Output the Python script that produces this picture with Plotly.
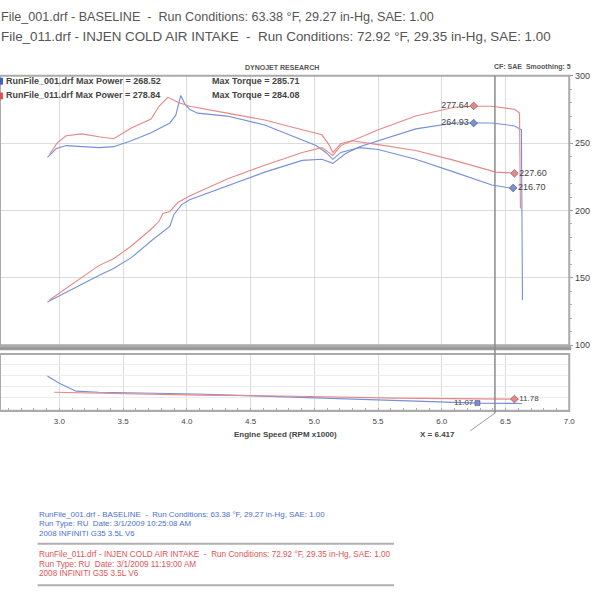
import plotly.graph_objects as go

# ---------------- data ----------------
rpm_tq_base = [2.907, 2.977, 3.054, 3.178, 3.310, 3.426, 3.565, 3.720, 3.868, 3.914, 3.953, 3.985, 4.022, 4.084,
               4.317, 4.611, 4.906, 5.014, 5.091, 5.146, 5.208, 5.355, 5.502, 5.796, 6.098, 6.393, 6.571]
tq_base = [239.4, 246.0, 248.2, 247.4, 246.7, 247.4, 251.8, 257.7, 265.0, 270.8, 285.4, 279.0, 275.2, 272.3,
           270.1, 263.5, 252.6, 248.2, 243.1, 238.0, 243.1, 246.7, 245.3, 238.0, 228.5, 219.0, 216.1]

rpm_tq_injen = [2.923, 2.985, 3.054, 3.178, 3.310, 3.426, 3.565, 3.720, 3.782, 3.852, 3.930, 4.022, 4.317,
                4.611, 4.906, 5.060, 5.115, 5.146, 5.208, 5.293, 5.502, 5.796, 6.098, 6.424, 6.579]
tq_injen = [241.6, 250.4, 255.5, 256.9, 254.7, 253.3, 261.3, 267.9, 277.4, 284.0, 280.3, 277.4, 272.3,
            267.2, 259.9, 256.2, 248.9, 243.1, 249.6, 251.8, 248.9, 244.5, 237.2, 228.5, 227.7]

rpm_hp_base = [2.907, 3.054, 3.310, 3.426, 3.565, 3.720, 3.868, 3.899, 3.960, 4.022, 4.317, 4.611, 4.906,
               5.060, 5.146, 5.246, 5.355, 5.502, 5.796, 6.098, 6.253, 6.393, 6.571, 6.625, 6.633]
hp_base = [132.1, 139.4, 151.8, 156.9, 165.0, 177.4, 188.3, 197.1, 204.4, 208.0, 218.2, 228.5, 237.2,
           238.0, 235.0, 242.3, 247.4, 251.8, 260.6, 265.0, 265.0, 265.0, 262.8, 259.9, 133.6]

rpm_hp_injen = [2.923, 3.054, 3.310, 3.426, 3.565, 3.720, 3.782, 3.813, 3.868, 3.930, 4.022, 4.317, 4.611,
                4.906, 5.060, 5.146, 5.208, 5.502, 5.796, 6.098, 6.253, 6.393, 6.571, 6.610, 6.617]
hp_injen = [133.6, 142.3, 159.1, 164.2, 173.7, 186.1, 192.0, 197.8, 199.3, 206.0, 210.8, 223.4, 233.6,
            243.1, 246.7, 240.9, 248.2, 259.9, 270.1, 276.6, 277.4, 277.4, 275.2, 272.3, 201.5]

rpm_afr_base = [2.907, 3.000, 3.132, 3.310, 4.080, 4.860, 5.630, 6.280, 6.630]
afr_base = [15.9, 14.6, 13.2, 13.0, 12.7, 12.1, 11.6, 11.07, 11.0]
rpm_afr_injen = [2.960, 3.310, 4.080, 4.860, 5.630, 6.570, 6.600]
afr_injen = [13.0, 12.85, 12.5, 12.3, 11.96, 11.78, 11.78]

cursor_rpm = 6.417
peak_labels_rpm = [6.25, 6.25, 6.57, 6.56]
peak_labels_val = [277.64, 264.93, 227.60, 216.70]
afr_label_rpm = [6.28, 6.57]
afr_label_val = [11.07, 11.78]

x_ticks = [3.0, 3.5, 4.0, 4.5, 5.0, 5.5, 6.0, 6.5, 7.0]
y_ticks = [100, 150, 200, 250, 300]

BLUE = "#7590dc"
RED = "#ea8686"
FONT = "Liberation Sans"

def px(x):
    return x / 600.0

def py(y):
    return 1 - y / 600.0

fig = go.Figure()

line_w = 1.1
fig.add_trace(go.Scatter(x=rpm_tq_base, y=tq_base, mode="lines", line=dict(color=BLUE, width=line_w)))
fig.add_trace(go.Scatter(x=rpm_tq_injen, y=tq_injen, mode="lines", line=dict(color=RED, width=line_w)))
fig.add_trace(go.Scatter(x=rpm_hp_base, y=hp_base, mode="lines", line=dict(color=BLUE, width=line_w)))
fig.add_trace(go.Scatter(x=rpm_hp_injen, y=hp_injen, mode="lines", line=dict(color=RED, width=line_w)))

fig.add_trace(go.Scatter(x=rpm_afr_base, y=afr_base, mode="lines", line=dict(color=BLUE, width=line_w),
                         xaxis="x2", yaxis="y2"))
fig.add_trace(go.Scatter(x=rpm_afr_injen, y=afr_injen, mode="lines", line=dict(color=RED, width=line_w),
                         xaxis="x2", yaxis="y2"))

# value markers / labels
fig.add_trace(go.Scatter(
    x=peak_labels_rpm[:2], y=peak_labels_val[:2], mode="markers+text",
    text=[f"{v:.2f}" for v in peak_labels_val[:2]], textposition="middle left",
    textfont=dict(family=FONT, size=9, color="#444"),
    marker=dict(symbol="diamond", size=6, color=[RED, BLUE], line=dict(color="#555", width=0.6))))
fig.add_trace(go.Scatter(
    x=peak_labels_rpm[2:], y=peak_labels_val[2:], mode="markers+text",
    text=[f"{v:.2f}" for v in peak_labels_val[2:]], textposition="middle right",
    textfont=dict(family=FONT, size=9, color="#444"),
    marker=dict(symbol="diamond", size=6, color=[RED, BLUE], line=dict(color="#555", width=0.6))))
fig.add_trace(go.Scatter(
    x=[afr_label_rpm[0]], y=[afr_label_val[0]], mode="markers+text", text=[f"{afr_label_val[0]:.2f}"],
    textposition="middle left", textfont=dict(family=FONT, size=8, color="#444"),
    marker=dict(symbol="square", size=5, color=BLUE, line=dict(color="#555", width=0.6)),
    xaxis="x2", yaxis="y2"))
fig.add_trace(go.Scatter(
    x=[afr_label_rpm[1]], y=[afr_label_val[1]], mode="markers+text", text=[f"{afr_label_val[1]:.2f}"],
    textposition="middle right", textfont=dict(family=FONT, size=8, color="#444"),
    marker=dict(symbol="diamond", size=6, color=RED, line=dict(color="#555", width=0.6)),
    xaxis="x2", yaxis="y2"))

xr = [2.535, 7.0]
dom_x = [0, px(575)]
grid = "#dcdcdc"

fig.update_layout(
    width=600, height=600, margin=dict(l=0, r=0, t=0, b=0),
    paper_bgcolor="white", plot_bgcolor="white", showlegend=False,
    font=dict(family=FONT, color="#444"),
    xaxis=dict(domain=dom_x, range=xr, tickvals=x_ticks, showticklabels=False, showgrid=True,
               gridcolor=grid, zeroline=False, showline=False, anchor="y"),
    yaxis=dict(domain=[py(346), py(72)], range=[100, 300], tickvals=y_ticks, side="right",
               showgrid=True, gridcolor=grid, zeroline=False, ticks="outside", ticklen=3,
               tickcolor="#999", tickfont=dict(family=FONT, size=9, color="#444"),
               minor=dict(dtick=10, ticks="outside", ticklen=2, tickcolor="#aaa"),
               anchor="x"),
    xaxis2=dict(domain=dom_x, range=xr, tickvals=x_ticks, ticktext=[f"{t:.1f}" for t in x_ticks],
                showgrid=True, gridcolor=grid, zeroline=False, showline=False, anchor="y2",
                tickfont=dict(family=FONT, size=8, color="#444"), ticklabelstandoff=4,
                minor=dict(dtick=0.1, ticks="inside", ticklen=3, tickcolor="#aaa")),
    yaxis2=dict(domain=[py(413), py(355)], range=[9.64, 19.82], dtick=2, showticklabels=False,
                showgrid=True, gridcolor="#ececec", zeroline=False, anchor="x2"),
)

shapes = []
# plot frames
shapes.append(dict(type="rect", xref="paper", yref="paper", x0=px(0), x1=px(575), y0=py(346), y1=py(72),
                   line=dict(color="#aaaaaa", width=2)))
shapes.append(dict(type="line", xref="paper", yref="paper", x0=px(0), x1=px(577), y0=py(349), y1=py(349),
                   line=dict(color="#9a9a9a", width=4)))
shapes.append(dict(type="rect", xref="paper", yref="paper", x0=px(0), x1=px(575), y0=py(413), y1=py(355),
                   line=dict(color="#aaaaaa", width=2)))
# cursor line
shapes.append(dict(type="line", xref="x", yref="paper", x0=cursor_rpm, x1=cursor_rpm, y0=py(415), y1=py(72),
                   line=dict(color="#8a8a8a", width=1.5)))
shapes.append(dict(type="line", xref="paper", yref="paper", x0=px(475), x1=px(500), y0=py(433), y1=py(415),
                   line=dict(color="#999", width=1)))
# legend colour chips
shapes.append(dict(type="rect", xref="paper", yref="paper", x0=px(0), x1=px(3), y0=py(81), y1=py(74),
                   fillcolor="#4060c0", line=dict(width=0)))
shapes.append(dict(type="rect", xref="paper", yref="paper", x0=px(0), x1=px(3), y0=py(96), y1=py(89),
                   fillcolor="#e05050", line=dict(width=0)))
# separators in the info block
for yy in (548, 590):
    shapes.append(dict(type="line", xref="paper", yref="paper", x0=px(38), x1=px(398), y0=py(yy), y1=py(yy),
                       line=dict(color="#b0b0b0", width=2)))
fig.update_layout(shapes=shapes)

ann = []
def text(x, y, s, size=9, color="#444", anchor="left", bold=False):
    ann.append(dict(x=px(x), y=py(y), xref="paper", yref="paper", text=f"<b>{s}</b>" if bold else s,
                    showarrow=False, xanchor=anchor, yanchor="middle", borderpad=0,
                    font=dict(family=FONT, size=size, color=color)))

text(0, 12, "File_001.drf - BASELINE  -  Run Conditions: 63.38 °F, 29.27 in-Hg, SAE: 1.00", 12.6, "#555")
text(0, 32, "File_011.drf - INJEN COLD AIR INTAKE  -  Run Conditions: 72.92 °F, 29.35 in-Hg, SAE: 1.00", 13.4, "#555")
text(285, 64, "DYNOJET RESEARCH", 7, "#555", "center", True)
text(498, 63, "CF: SAE  Smoothing: 5", 7, "#555", "left", True)
text(5, 77, "RunFile_001.drf Max Power = 268.52", 9, "#444", "left", True)
text(5, 92, "RunFile_011.drf Max Power = 278.84", 9, "#444", "left", True)
text(213, 77, "Max Torque = 285.71", 9, "#444", "left", True)
text(213, 92, "Max Torque = 284.08", 9, "#444", "left", True)
text(288, 437, "Engine Speed (RPM x1000)", 8, "#444", "center", True)
text(423, 437, "X = 6.417", 8, "#444", "left", True)

info_blue = ["RunFile_001.drf - BASELINE  -  Run Conditions: 63.38 °F, 29.27 in-Hg, SAE: 1.00",
             "Run Type: RU  Date: 3/1/2009 10:25:08 AM",
             "2008 INFINITI G35 3.5L V6"]
info_red = ["RunFile_011.drf - INJEN COLD AIR INTAKE  -  Run Conditions: 72.92 °F, 29.35 in-Hg, SAE: 1.00",
            "Run Type: RU  Date: 3/1/2009 11:19:00 AM",
            "2008 INFINITI G35 3.5L V6"]
for i, s in enumerate(info_blue):
    text(38, 518 + 9.5 * i, s, 7.9, "#4a6fd0")
for i, s in enumerate(info_red):
    text(38, 559 + 9.5 * i, s, 8.2, "#e05555")

fig.update_layout(annotations=ann)
fig.write_html("out.html", config={"displayModeBar": False},
               post_script="document.body.style.margin='0';document.body.style.overflow='hidden';")
